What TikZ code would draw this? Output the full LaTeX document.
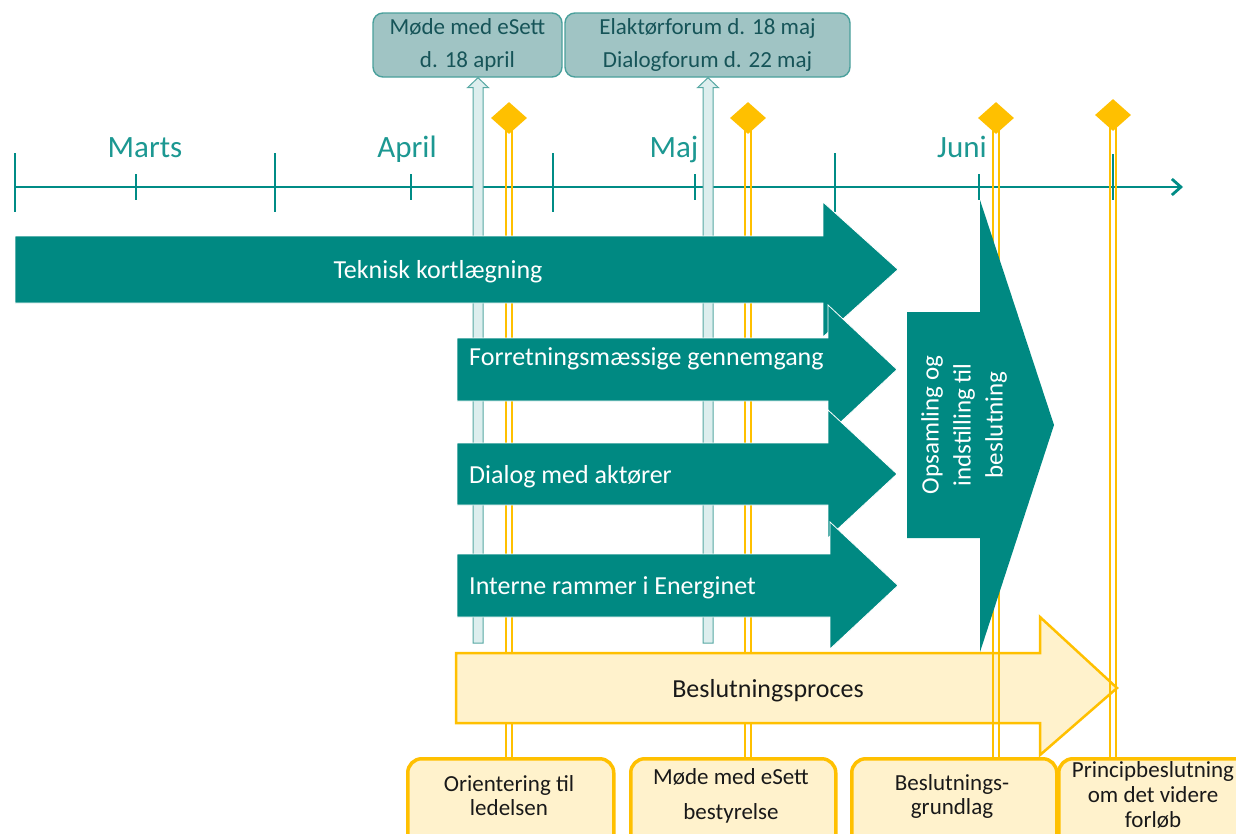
\documentclass[tikz,border=0pt]{standalone}
\usepackage{fontspec}
\setmainfont{Carlito}
\usetikzlibrary{arrows.meta,shapes.geometric,calc}

\definecolor{teal1}{RGB}{0,137,130}
\definecolor{tealline}{RGB}{0,140,134}
\definecolor{tealtxt}{RGB}{28,152,146}
\definecolor{boxfill}{RGB}{160,196,196}
\definecolor{boxline}{RGB}{74,160,156}
\definecolor{boxtxt}{RGB}{22,84,88}
\definecolor{lightfill}{RGB}{221,238,238}
\definecolor{lightline}{RGB}{86,168,163}
\definecolor{gold}{RGB}{255,192,0}
\definecolor{cream}{RGB}{255,242,204}
\definecolor{darktxt}{RGB}{25,25,25}

\begin{document}
\begin{tikzpicture}[x=1pt,y=-1pt,
  tl/.style={draw=tealline,line width=2.8pt},
  month/.style={text=tealtxt,font=\fontsize{31}{34}\selectfont,anchor=base,inner sep=0pt},
  topbox/.style={draw=boxline,fill=boxfill,line width=1.4pt,rounded corners=10pt,text=boxtxt,align=center,font=\fontsize{23}{33}\selectfont,inner sep=0pt},
  lightarr/.style={draw=lightline,fill=lightfill,line width=1pt},
  gline/.style={draw=gold,line width=2pt},
  gdia/.style={diamond,fill=gold,draw=none,minimum width=36pt,minimum height=32pt,inner sep=0pt},
  tarrow/.style={fill=teal1,draw=white,line width=0.8pt},
  wtxt/.style={text=white,font=\fontsize{26}{30}\selectfont,inner sep=0pt},
  ybox/.style={draw=gold,fill=cream,line width=3.5pt,rounded corners=14pt,inner sep=0pt},
  btxt/.style={text=darktxt,align=center,font=\fontsize{23}{24}\selectfont,inner sep=0pt},
]
\useasboundingbox (0,0) rectangle (1236,833);
\clip (0,0) rectangle (1236,833);
\fill[white] (0,0) rectangle (1236,833);

% timeline
\coordinate (t0) at (15,187);
\coordinate (t1) at (1183,187);
\draw[tl,-{Straight Barb[length=9pt,width=16pt]}] (t0) -- (t1);
\foreach \x in {15,275,553,835} \draw[tl] (\x,153) -- (\x,212);
\foreach \x in {136,411,695,979} \draw[tl] (\x,174) -- (\x,200);
\draw[tl] (1113,154) -- (1113,200);

\node[month] (mMarts) at (145,157) {Marts};
\node[month] (mApril) at (407,157) {April};
\node[month] (mMaj) at (674,157) {Maj};
\node[month] (mJuni) at (962,157) {Juni};

% top boxes
\node[topbox,minimum width=189pt,minimum height=64pt] (eSett) at (467.5,45) {Møde med eSett\\d. 18 april};
\node[topbox,minimum width=285pt,minimum height=64pt] (forum) at (707.5,45) {Elaktørforum d. 18 maj\\Dialogforum d. 22 maj};

% light up arrows
\coordinate (la1) at (478,643);
\coordinate (la2) at (708,643);
\path (la1 |- eSett.south) coordinate (la1t);
\path (la2 |- forum.south) coordinate (la2t);
\filldraw[lightarr] ($(la1)+(-5,0)$) -- ($(la1t)+(-5,10)$) -- ($(la1t)+(-10.5,10)$) -- (la1t) -- ($(la1t)+(10.5,10)$) -- ($(la1t)+(5,10)$) -- ($(la1)+(5,0)$) -- cycle;
\filldraw[lightarr] ($(la2)+(-5,0)$) -- ($(la2t)+(-5,10)$) -- ($(la2t)+(-10.5,10)$) -- (la2t) -- ($(la2t)+(10.5,10)$) -- ($(la2t)+(5,10)$) -- ($(la2)+(5,0)$) -- cycle;

% bottom boxes
\node[ybox,minimum width=206pt,minimum height=100pt,anchor=north west] (bA) at (406,757) {};
\node[ybox,minimum width=205pt,minimum height=100pt,anchor=north west] (bB) at (629,757) {};
\node[ybox,minimum width=205pt,minimum height=100pt,anchor=north west] (bC) at (850,757) {};
\node[ybox,minimum width=205pt,minimum height=100pt,anchor=north west] (bD) at (1057,757) {};
\node[btxt] (tA) at (509,796) {Orientering til\\ledelsen};
\node[btxt,font=\fontsize{23}{35}\selectfont] (tB) at (731,796) {Møde med eSett\\bestyrelse};
\node[btxt] (tC) at (952,796) {Beslutnings-\\grundlag};
\node[btxt,font=\fontsize{23}{25}\selectfont] (tD) at (1153,795) {Principbeslutning\\om det videre\\forløb};

% milestones
\node[gdia] (d1) at (509,118) {};
\node[gdia] (d2) at (748,118) {};
\node[gdia] (d3) at (996,118) {};
\node[gdia] (d4) at (1113,115) {};
\foreach \d/\b in {d1/bA,d2/bB}{
  \draw[gline] ($(\d.south)+(-2.8,-4)$) -- ($(\d.south |- \b.north)+(-2.8,0)$);
  \draw[gline] ($(\d.south)+(2.8,-4)$) -- ($(\d.south |- \b.north)+(2.8,0)$);
}

% teal arrows
\filldraw[tarrow] (15,236) -- (823,236) -- (823,202) -- (898,269.5) -- (823,337) -- (823,303) -- (15,303) -- cycle;
\filldraw[tarrow] (457,338) -- (828,338) -- (828,305) -- (897,369.5) -- (828,434) -- (828,401) -- (457,401) -- cycle;
\filldraw[tarrow] (457,443) -- (828,443) -- (828,410) -- (897,474) -- (828,538) -- (828,505) -- (457,505) -- cycle;
\filldraw[tarrow] (457,554) -- (830,554) -- (830,522) -- (898,585.5) -- (830,649) -- (830,617) -- (457,617) -- cycle;
\node[wtxt,anchor=base] (tek) at (438,278) {Teknisk kortlægning};
\node[wtxt,anchor=base west] (forr) at (469,365) {Forretningsmæssige gennemgang};
\node[wtxt,anchor=base west] (dial) at (469,483) {Dialog med aktører};
\node[wtxt,anchor=base west] (intr) at (469,594) {Interne rammer i Energinet};

% decision process arrow
\filldraw[draw=gold,fill=cream,line width=2.5pt] (456,653) -- (1040,653) -- (1040,617) -- (1117,688) -- (1040,755) -- (1040,723) -- (456,723) -- cycle;
\node[anchor=base,text=darktxt,font=\fontsize{26}{30}\selectfont,inner sep=0pt] (bp) at (768,697) {Beslutningsproces};

\foreach \d/\b in {d3/bC,d4/bD}{
  \draw[gline] ($(\d.south)+(-2.8,-4)$) -- ($(\d.south |- \b.north)+(-2.8,0)$);
  \draw[gline] ($(\d.south)+(2.8,-4)$) -- ($(\d.south |- \b.north)+(2.8,0)$);
}

% collection arrow
\fill[teal1] (907,312) -- (980,312) -- (980,200) -- (1054,425) -- (980,652) -- (980,538) -- (907,538) -- cycle;
\node[wtxt,rotate=90,align=center,font=\fontsize{25}{32}\selectfont] (ops) at (964,425) {Opsamling og\\indstilling til\\beslutning};
\end{tikzpicture}
\end{document}
